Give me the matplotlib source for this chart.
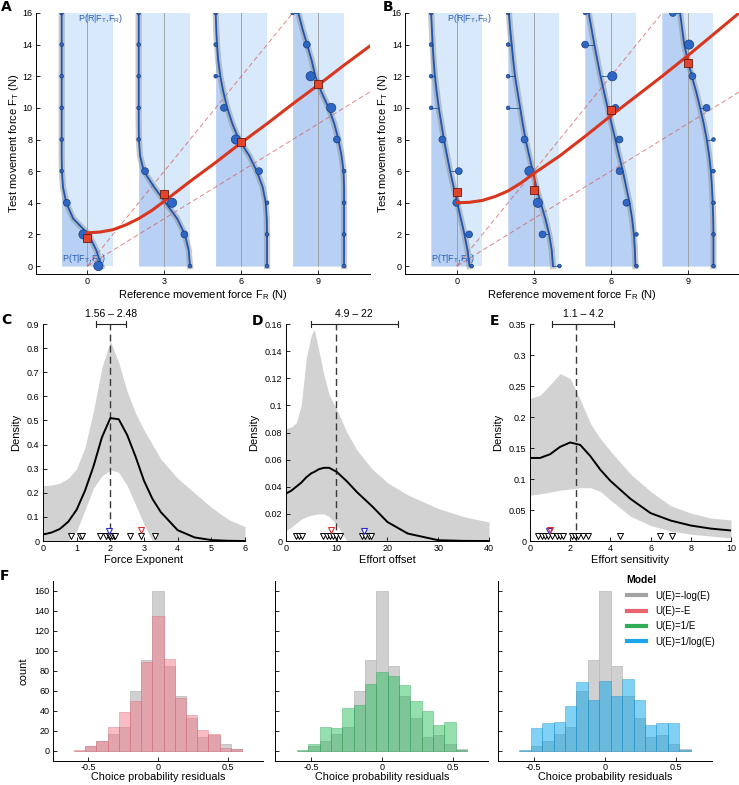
import matplotlib
matplotlib.use("Agg")
import matplotlib.pyplot as plt
import matplotlib.transforms as mtransforms
from matplotlib.patches import Rectangle
from matplotlib.lines import Line2D
from matplotlib.ticker import FormatStrFormatter

plt.rcParams["font.family"] = ["Liberation Sans", "DejaVu Sans"]
plt.rcParams["mathtext.default"] = "regular"
plt.rcParams["xtick.direction"] = "in"
plt.rcParams["ytick.direction"] = "in"
plt.rcParams["xtick.labelsize"] = 6.5
plt.rcParams["ytick.labelsize"] = 6.5
plt.rcParams["axes.labelsize"] = 8
plt.rcParams["axes.linewidth"] = 0.7
plt.rcParams["xtick.major.size"] = 3
plt.rcParams["ytick.major.size"] = 3
plt.rcParams["xtick.major.width"] = 0.6
plt.rcParams["ytick.major.width"] = 0.6
plt.rcParams["xtick.major.pad"] = 2.5
plt.rcParams["ytick.major.pad"] = 2.5

# ---------------- panels A and B: psychometric columns ----------------
ref_forces = [0, 3, 6, 9]
test_levels = list(range(17))
dot_levels = [0, 2, 4, 6, 8, 10, 12, 14, 16]

# curve width within each column (= 2 * P(T|FT,FR)), at test force 0..16
curves_a = [
    [1.55, 1.35, 1.05, 0.45, 0.18, 0.05, 0.01, 0, 0, 0, 0, 0, 0, 0, 0, 0, 0],
    [2.0, 1.95, 1.8, 1.5, 1.05, 0.6, 0.2, 0.05, 0.01, 0, 0, 0, 0, 0, 0, 0, 0],
    [2.0, 2.0, 2.0, 1.99, 1.95, 1.83, 1.6, 1.3, 0.9, 0.65, 0.45, 0.3, 0.18, 0.1, 0.05, 0.02, 0.0],
    [2.0, 2.0, 2.0, 2.0, 2.0, 2.0, 1.98, 1.9, 1.78, 1.62, 1.4, 1.12, 0.88, 0.74, 0.56, 0.38, 0.22],
]
dots_a = [
    [1.43, 0.85, 0.2, 0, 0, 0, 0, 0, 0],
    [2.0, 1.78, 1.3, 0.25, 0, 0, 0, 0, 0],
    [2.0, 2.0, 2.0, 1.69, 0.79, 0.32, 0, 0, 0],
    [2.0, 2.0, 2.0, 2.0, 1.72, 1.5, 0.7, 0.55, 0],
]
dot_sizes_a = [
    [3, 3, 2, 1, 1, 1, 1, 1, 1],
    [1, 2, 3, 2, 1, 1, 1, 1, 1],
    [1, 1, 1, 2, 3, 2, 1, 1, 1],
    [1, 1, 1, 1, 2, 3, 3, 2, 1],
]
curves_b = [
    [1.5, 1.42, 1.3, 1.16, 1.02, 0.88, 0.74, 0.62, 0.5, 0.4, 0.3, 0.22, 0.15, 0.1, 0.06, 0.03, 0.0],
    [1.75, 1.7, 1.6, 1.45, 1.27, 1.1, 0.96, 0.82, 0.68, 0.57, 0.47, 0.37, 0.27, 0.2, 0.14, 0.08, 0.03],
    [1.96, 1.94, 1.9, 1.83, 1.73, 1.6, 1.47, 1.32, 1.18, 1.03, 0.88, 0.74, 0.6, 0.48, 0.36, 0.25, 0.14],
    [2.0, 2.0, 2.0, 1.99, 1.97, 1.94, 1.9, 1.83, 1.74, 1.62, 1.48, 1.33, 1.16, 1.0, 0.86, 0.78, 0.7],
]
dots_b = [
    [1.58, 1.48, 0.98, 1.08, 0.44, 0, 0, 0, 0],
    [2.0, 1.34, 1.16, 0.83, 0.64, 0, 0, 0, 0],
    [2.0, 2.0, 1.61, 1.34, 1.34, 1.18, 1.06, 0, 0],
    [2.0, 2.0, 2.0, 2.0, 2.0, 1.73, 1.18, 1.05, 0.42],
]
dot_sizes_b = [
    [1, 2, 2, 2, 2, 1, 1, 1, 1],
    [1, 2, 3, 3, 2, 1, 1, 1, 1],
    [1, 1, 2, 2, 2, 2, 3, 2, 1],
    [1, 1, 1, 1, 1, 2, 2, 3, 2],
]

pse_x = [0, 0.5, 1, 1.5, 2, 2.5, 3, 4, 5, 6, 7, 8, 9, 10, 11]
pse_curve_a = [2.1, 2.15, 2.3, 2.6, 3.0, 3.5, 4.1, 5.35, 6.55, 7.8, 9.0, 10.25, 11.45, 12.7, 13.9]
pse_curve_b = [4.0, 4.03, 4.15, 4.4, 4.75, 5.25, 5.85, 6.95, 8.2, 9.5, 10.75, 12.0, 13.3, 14.65, 16.0]
pse_points_a = [1.8, 4.55, 7.85, 11.5]
pse_points_b = [4.65, 4.8, 9.85, 12.85]
ref_slopes = [1, 2]

# ---------------- panels C, D, E: parameter densities ----------------
c_x = [0, 0.25, 0.5, 0.75, 1, 1.25, 1.5, 1.75, 2, 2.25, 2.5, 2.75, 3, 3.25, 3.5, 4, 4.5, 5, 5.5, 6]
c_mean = [0.027, 0.035, 0.05, 0.08, 0.13, 0.21, 0.31, 0.43, 0.51, 0.505, 0.44, 0.35, 0.25, 0.175,
          0.12, 0.045, 0.015, 0.004, 0.001, 0.0]
c_upper = [0.23, 0.232, 0.24, 0.26, 0.30, 0.39, 0.54, 0.72, 0.83, 0.74, 0.62, 0.53, 0.46, 0.40,
           0.34, 0.26, 0.20, 0.14, 0.09, 0.06]
c_lower = [0, 0, 0, 0, 0.04, 0.13, 0.22, 0.27, 0.295, 0.285, 0.23, 0.15, 0.07, 0, 0, 0, 0, 0, 0, 0]
c_subjects = [0.82, 1.11, 1.17, 1.70, 1.88, 1.95, 2.0, 2.05, 2.1, 2.15, 2.57, 2.92, 3.34]

d_x = [0, 1, 2, 3, 4, 5, 5.6, 6.5, 7.5, 8.5, 10, 12, 14, 17, 20, 24, 30, 35, 40]
d_mean = [0.035, 0.037, 0.040, 0.043, 0.047, 0.050, 0.051, 0.053, 0.054, 0.054, 0.051, 0.044, 0.036,
          0.0255, 0.014, 0.0055, 0.0006, 0.0001, 0.0]
d_upper = [0.083, 0.084, 0.087, 0.10, 0.135, 0.152, 0.156, 0.14, 0.122, 0.108, 0.097, 0.08, 0.067,
           0.053, 0.043, 0.034, 0.024, 0.018, 0.014]
d_lower = [0.0075, 0.01, 0.013, 0.016, 0.018, 0.019, 0.0195, 0.02, 0.02, 0.018, 0.012, 0, 0,
           0, 0, 0, 0, 0, 0]
d_subjects = [2.0, 2.6, 3.2, 7.3, 8.0, 8.6, 9.3, 9.9, 10.6, 15.0, 15.6, 16.3, 16.7]

e_x = [0, 0.5, 1, 1.5, 2, 2.5, 3, 3.5, 4, 5, 6, 7, 8, 9, 10]
e_mean = [0.134, 0.134, 0.14, 0.152, 0.159, 0.155, 0.137, 0.115, 0.097, 0.068, 0.045, 0.033, 0.025, 0.02, 0.017]
e_upper = [0.23, 0.235, 0.252, 0.27, 0.262, 0.228, 0.19, 0.165, 0.145, 0.108, 0.08, 0.057, 0.045, 0.037, 0.034]
e_lower = [0.074, 0.076, 0.079, 0.082, 0.084, 0.086, 0.086, 0.08, 0.066, 0.04, 0.025, 0.016, 0.011, 0.008, 0.005]
e_subjects = [0.41, 0.58, 0.75, 0.91, 1.08, 1.33, 1.49, 1.66, 2.07, 2.24, 2.4, 2.65, 2.9, 4.48, 6.47, 7.05]

group_means = [2.0, 9.85, 2.29]
intervals = [(1.56, 2.48), (4.9, 22), (1.1, 4.2)]
interval_labels = ["1.56 \u2013 2.48", "4.9 \u2013 22", "1.1 \u2013 4.2"]
highlight_red = [2.92, 8.9, 0.97]
highlight_blue = [1.95, 15.3, 0.93]

# ---------------- panel F: residual histograms ----------------
bin_centers = [-0.56, -0.48, -0.40, -0.32, -0.24, -0.16, -0.08, 0.0,
               0.08, 0.16, 0.24, 0.32, 0.40, 0.48, 0.56]
counts_log = [0, 5, 10, 17, 24, 60, 91, 160, 85, 55, 33, 14, 16, 7, 2]
counts_lin = [1, 5, 10, 24, 39, 50, 89, 135, 92, 53, 36, 21, 17, 3, 2]
counts_inv = [1, 7, 24, 23, 43, 46, 67, 79, 75, 66, 50, 40, 26, 29, 1]
counts_invlog = [1, 23, 28, 29, 45, 69, 51, 70, 55, 72, 51, 26, 28, 28, 1]
model_names = ["U(E)=-log(E)", "U(E)=-E", "U(E)=1/E", "U(E)=1/log(E)"]
model_colors = ["#a3a3a3", "#e8646f", "#2fae57", "#1ea6ea"]

light_blue = "#d7e9fb"
mid_blue = "#b7d0f3"
line_blue = "#1f55b3"
red = "#d9361f"
dot_area = {1: 7, 2: 24, 3: 44}

figure = plt.figure(figsize=(7.39, 7.85), dpi=100)


def psychometric_panel(rect, curves, dots, sizes, pse_curve, pse_points):
    axes = figure.add_axes(rect)
    for fr, curve, dot, size, pse in zip(ref_forces, curves, dots, sizes, pse_points):
        left = fr - 1
        axes.add_patch(Rectangle((left, 0), 2, 16, color=light_blue, lw=0, zorder=1))
        xs = [left + c for c in curve]
        axes.fill_betweenx(test_levels, left, xs, color=mid_blue, lw=0, zorder=1.5)
        axes.plot([fr, fr], [0, 16], color="#9a9a9a", lw=0.6, zorder=2)
        axes.plot(xs, test_levels, color="#8a8a8a", lw=4.5, alpha=0.45, zorder=3)
        axes.plot(xs, test_levels, color=line_blue, lw=1.3, zorder=4)
        for y, d in zip(dot_levels, dot):
            axes.plot([left + d, xs[y]], [y, y], color="#1d4f9c", lw=0.6, zorder=4)
        axes.scatter([left + d for d in dot], dot_levels, s=[dot_area[s] for s in size],
                     color="#2e67c6", edgecolors="#163c7c", linewidths=0.5, zorder=5)
        top = pse_curve[pse_x.index(fr)]
        axes.plot([fr, fr], [pse, top], color=red, lw=1.0, zorder=6)
    for slope in ref_slopes:
        axes.plot([0, 11], [0, 11 * slope], color="#d9534f", lw=0.7, alpha=0.7,
                  dashes=(5, 3), zorder=2.5)
    axes.plot(pse_x, pse_curve, color=red, lw=2.2, zorder=6)
    axes.scatter(ref_forces, pse_points, marker="s", s=26, color="#e2452b",
                 edgecolors="#6b1a0c", linewidths=0.6, zorder=7)
    axes.text(-0.38, 15.65, "P(R|F$_T$,F$_R$)", color="#2a5cb8", fontsize=6.5, va="center", zorder=8)
    axes.text(-1.0, 0.5, "P(T|F$_T$,F$_R$)", color="#2a5cb8", fontsize=6.5, va="center", zorder=8)
    axes.set_xlim(-2, 11)
    axes.set_ylim(-0.5, 16)
    axes.set_xticks(ref_forces)
    axes.set_yticks(range(0, 17, 2))
    axes.spines[["top", "right"]].set_visible(False)
    axes.set_xlabel("Reference movement force F$_R$ (N)", labelpad=1)
    axes.set_ylabel("Test movement force F$_T$ (N)", labelpad=1)
    return axes


psychometric_panel([0.0487, 0.651, 0.4516, 0.3325], curves_a, dots_a, dot_sizes_a,
                   pse_curve_a, pse_points_a)
psychometric_panel([0.5486, 0.651, 0.4516, 0.3325], curves_b, dots_b, dot_sizes_b,
                   pse_curve_b, pse_points_b)

density_rects = [[0.0582, 0.3108, 0.2733, 0.2764],
                 [0.3870, 0.3108, 0.2747, 0.2764],
                 [0.7172, 0.3108, 0.2720, 0.2764]]
density_data = [(c_x, c_mean, c_lower, c_upper, c_subjects),
                (d_x, d_mean, d_lower, d_upper, d_subjects),
                (e_x, e_mean, e_lower, e_upper, e_subjects)]
density_xlim = [(0, 6), (0, 40), (0, 10)]
density_ylim = [(0, 0.9), (0, 0.16), (0, 0.35)]
density_xticks = [range(0, 7), range(0, 41, 10), range(0, 11, 2)]
density_yticks = [[i / 10 for i in range(10)], [i / 50 for i in range(9)], [i / 20 for i in range(8)]]
density_xlabels = ["Force Exponent", "Effort offset", "Effort sensitivity"]

for k in range(3):
    axes = figure.add_axes(density_rects[k])
    xs, mean, lower, upper, subjects = density_data[k]
    axes.fill_between(xs, lower, upper, color="#d2d2d2", lw=0, zorder=1)
    axes.plot(xs, mean, color="black", lw=1.4, zorder=3)
    axes.axvline(group_means[k], color="#3a3a3a", lw=1.0, dashes=(5, 3), zorder=2)
    trans = mtransforms.blended_transform_factory(axes.transData, axes.transAxes)
    axes.plot(subjects, [0.022] * len(subjects), "v", mfc="white", mec="black", ms=4.2,
              mew=0.7, transform=trans, clip_on=False, zorder=4)
    axes.plot([highlight_blue[k]], [0.045], "v", mfc="white", mec="#2a2ad2", ms=4.2,
              mew=0.8, transform=trans, clip_on=False, zorder=5)
    axes.plot([highlight_red[k]], [0.05], "v", mfc="none", mec="#e0302a", ms=4.2,
              mew=0.8, transform=trans, clip_on=False, zorder=5)
    lo, hi = intervals[k]
    axes.plot([lo, hi], [1, 1], color="#222222", lw=0.8, transform=trans, clip_on=False)
    for edge in (lo, hi):
        axes.plot([edge, edge], [0.988, 1.012], color="#222222", lw=0.8, transform=trans,
                  clip_on=False)
    axes.text((lo + hi) / 2, 1.022, interval_labels[k], transform=trans, ha="center",
              va="bottom", fontsize=7.5)
    axes.set_xlim(*density_xlim[k])
    axes.set_ylim(*density_ylim[k])
    axes.set_xticks(density_xticks[k])
    axes.set_yticks(density_yticks[k])
    axes.yaxis.set_major_formatter(FormatStrFormatter("%g"))
    axes.spines[["top", "right"]].set_visible(False)
    axes.set_xlabel(density_xlabels[k], labelpad=1)
    axes.set_ylabel("Density", labelpad=4)

hist_rects = [[0.0717, 0.0306, 0.2842, 0.2293],
              [0.3728, 0.0306, 0.2882, 0.2293],
              [0.6739, 0.0306, 0.2896, 0.2293]]
hist_counts = [counts_lin, counts_inv, counts_invlog]
hist_fill = ["#f27a8b", "#2dbe5f", "#05a5eb"]
hist_edge = ["#d8606e", "#239c4c", "#0a88c4"]

for k in range(3):
    axes = figure.add_axes(hist_rects[k])
    axes.bar(bin_centers, counts_log, width=0.08, color="#d0d0d0", edgecolor="#b8b8b8", lw=0.5)
    axes.bar(bin_centers, hist_counts[k], width=0.08, color=hist_fill[k], alpha=0.5,
             edgecolor=hist_edge[k], lw=0.5)
    axes.set_xlim(-0.75, 0.75)
    axes.set_ylim(-10, 170)
    axes.set_xticks([-0.5, 0, 0.5])
    axes.set_yticks(range(0, 161, 20))
    axes.xaxis.set_major_formatter(FormatStrFormatter("%g"))
    axes.tick_params(axis="x", pad=1.5)
    axes.spines[["top", "right"]].set_visible(False)
    axes.set_xlabel("Choice probability residuals", labelpad=0, fontsize=7.8)
    if k == 0:
        axes.set_ylabel("count", labelpad=4)
    else:
        axes.set_yticklabels([])
    if k == 2:
        handles = [Line2D([], [], color=c, lw=3) for c in model_colors]
        legend = axes.legend(handles, model_names, title="Model", loc="upper left",
                             bbox_to_anchor=(0.56, 1.08), frameon=False, fontsize=7,
                             handlelength=2.0, handletextpad=0.9, labelspacing=0.55,
                             alignment="left")
        legend.get_title().set_fontweight("bold")
        legend.get_title().set_fontsize(7.5)

for letter, x, y in [("A", 1, 7), ("B", 383, 7), ("C", 1, 320), ("D", 252, 321),
                     ("E", 490, 321), ("F", 0, 576)]:
    figure.text(x / 739, 1 - y / 785, letter, fontsize=10, fontweight="bold",
                ha="left", va="center", family=["DejaVu Sans"])

figure.savefig("out.png", dpi=100)
